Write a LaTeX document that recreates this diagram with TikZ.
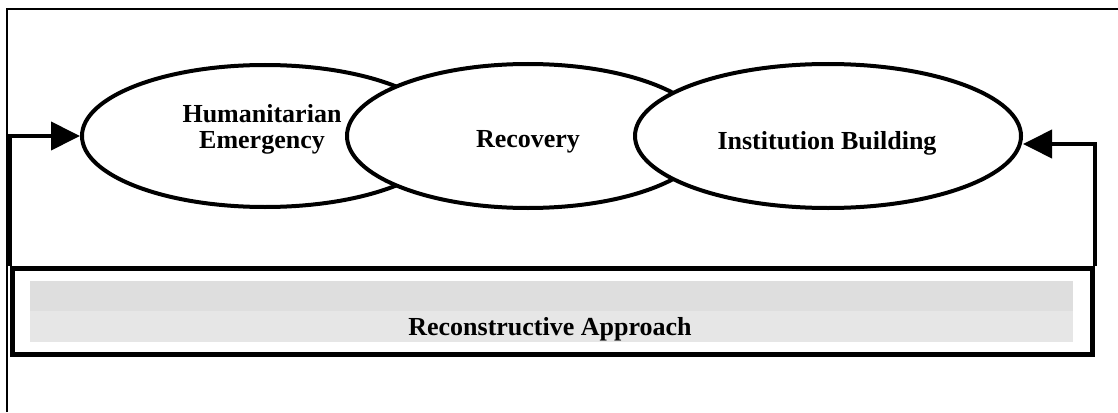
\documentclass[tikz,border=0pt]{standalone}
\usepackage{fontspec}
\setmainfont{Liberation Serif}
\usetikzlibrary{shapes.geometric,arrows.meta}
\definecolor{grayA}{HTML}{DEDEDE}
\definecolor{grayB}{HTML}{E6E6E6}
\begin{document}
\begin{tikzpicture}[x=1pt,y=-1pt,
  stage/.style={ellipse,draw,line width=4pt,fill=white,inner sep=0pt},
  lbl/.style={font=\fontsize{26}{27}\selectfont\bfseries,inner sep=0pt,anchor=base,align=center},
  arr/.style={line width=4pt,-{Triangle[length=29pt,width=28pt]}},
  frame/.style={line width=2pt}]
\useasboundingbox (0,0) rectangle (1118,412);
% outer frame (top and left only visible)
\draw[frame] (7,412) -- (7,9) -- (1118,9);
% ellipses
\node[stage,minimum width=366pt,minimum height=142pt] (he) at (265,136) {};
\node[stage,minimum width=362pt,minimum height=144pt] (rc) at (528,136) {};
\node[stage,minimum width=386pt,minimum height=144pt] (ib) at (828,136) {};
% labels
\node[lbl] (het) at (262,122) {Humanitarian};
\node[lbl] (het2) at (262,148) {Emergency};
\node[lbl] (rct) at (528,147) {Recovery};
\node[lbl] (ibt) at (827,149) {Institution Building};
% bottom box
\node[draw,line width=5pt,minimum width=1080pt,minimum height=86pt,inner sep=0pt] (box) at (552,311) {};
\fill[grayA] (30,281) rectangle (1073,311);
\fill[grayB] (30,311) rectangle (1073,342);
\node[lbl] (rat) at (550,335) {Reconstructive Approach};
% arrows
\draw[arr] (box.north west) |- (he.west);
\draw[arr] (box.north east) |- ([yshift=-8pt]ib.east);
\end{tikzpicture}
\end{document}
